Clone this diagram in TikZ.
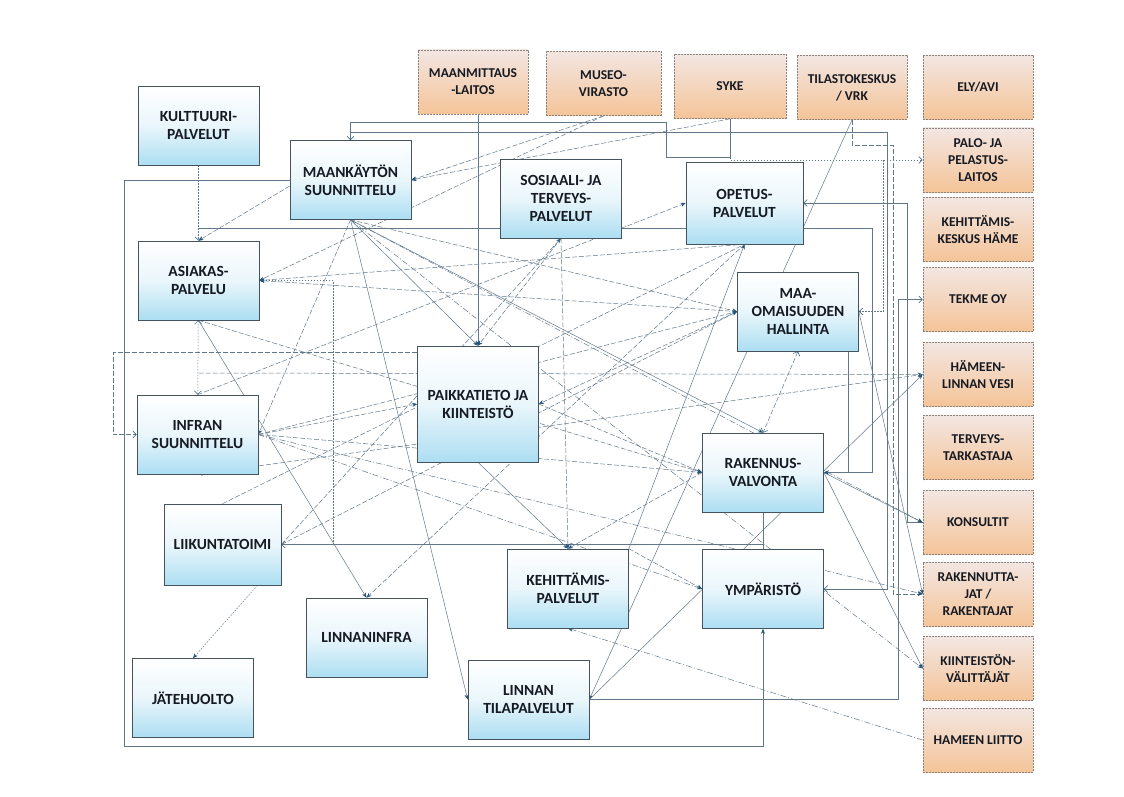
\documentclass[tikz,border=0pt]{standalone}
\usepackage{fontspec}
\setmainfont{Carlito}
\usetikzlibrary{arrows.meta,backgrounds,calc}

\definecolor{linkcol}{RGB}{98,120,138}
\definecolor{tipcol}{RGB}{35,85,125}
\definecolor{boxline}{RGB}{70,82,92}
\definecolor{boxblue}{RGB}{172,222,242}
\definecolor{boxmid}{RGB}{234,246,251}
\definecolor{orgtop}{RGB}{243,230,226}
\definecolor{orgbot}{RGB}{244,196,152}
\definecolor{orgline}{RGB}{140,130,124}
\definecolor{txt}{RGB}{22,26,34}

\begin{document}
\begin{tikzpicture}[x=1pt,y=-1pt,
    unitbox/.style={
        draw=boxline, line width=0.6pt,
        top color=white, bottom color=boxblue, middle color=boxmid,
        minimum width=121pt, minimum height=79pt, inner sep=2pt,
        align=center, text=txt,
        font=\fontsize{15.5}{18}\selectfont\bfseries
        },
    partnerbox/.style={
        draw=orgline, line width=0.7pt, dash pattern=on 2pt off 1pt,
        top color=orgtop, bottom color=orgbot,
        minimum width=110pt, minimum height=64pt, inner sep=2pt,
        align=center, text=txt,
        font=\fontsize{13.5}{17}\selectfont\bfseries
        },
    link/.style={draw=linkcol, line width=0.5pt},
    dashlink/.style={link, dash pattern=on 5pt off 2pt},
    dotlink/.style={link, dash pattern=on 1.5pt off 1.5pt},
    dashdotlink/.style={link, dash pattern=on 6pt off 2pt on 1pt off 2pt},
    arr/.style={-{Stealth[length=5pt,width=4pt,color=tipcol]}},
    openarr/.style={-{Straight Barb[length=3.5pt,width=7pt,color=tipcol]}},
    bothopen/.style={{Straight Barb[length=3.5pt,width=7pt,color=tipcol]}-{Straight Barb[length=3.5pt,width=7pt,color=tipcol]}}
]
\useasboundingbox (0,0) rectangle (1124,797);

% units of the city
\node[unitbox] (kult) at (198.5,125.5) {KULTTUURI-\\PALVELUT};
\node[unitbox] (maak) at (350.5,180) {MAANKÄYTÖN\\SUUNNITTELU};
\node[unitbox] (asiakas) at (198.5,280.5) {ASIAKAS-\\PALVELU};
\node[unitbox] (sote) at (561,198.5) {SOSIAALI- JA\\TERVEYS-\\PALVELUT};
\node[unitbox, minimum width=117pt, minimum height=82pt] (opetus) at (744.5,203) {OPETUS-\\PALVELUT};
\node[unitbox] (maaom) at (798,311.5) {MAA-\\OMAISUUDEN\\HALLINTA};
\node[unitbox, minimum height=116pt] (paikka) at (478,404) {PAIKKATIETO JA\\KIINTEISTÖ};
\node[unitbox] (infra) at (197.5,434.5) {INFRAN\\SUUNNITTELU};
\node[unitbox] (rava) at (763,472.5) {RAKENNUS-\\VALVONTA};
\node[unitbox, minimum width=117pt, minimum height=81pt] (liikunta) at (222.5,544.5) {LIIKUNTATOIMI};
\node[unitbox] (kepa) at (568,588.5) {KEHITTÄMIS-\\PALVELUT};
\node[unitbox] (ymp) at (763,589) {YMPÄRISTÖ};
\node[unitbox] (linfra) at (366.5,637.5) {LINNANINFRA};
\node[unitbox] (jate) at (193,698) {JÄTEHUOLTO};
\node[unitbox] (tilapa) at (528.5,699.5) {LINNAN\\TILAPALVELUT};

% partners
\node[partnerbox] (mml) at (473,82) {MAANMITTAUS\\-LAITOS};
\node[partnerbox, minimum width=115pt] (museo) at (603.5,83.5) {MUSEO-\\VIRASTO};
\node[partnerbox, minimum width=112pt] (syke) at (730,86.5) {SYKE};
\node[partnerbox] (tilasto) at (852,87.5) {TILASTOKESKUS\\/ VRK};
\node[partnerbox] (ely) at (978,87.5) {ELY/AVI};
\node[partnerbox] (palo) at (978,160) {PALO- JA\\PELASTUS-\\LAITOS};
\node[partnerbox] (kekes) at (978,229.5) {KEHITTÄMIS-\\KESKUS HÄME};
\node[partnerbox] (tekme) at (978,299.5) {TEKME OY};
\node[partnerbox] (hmlvesi) at (978,374.5) {HÄMEEN-\\LINNAN VESI};
\node[partnerbox] (terveys) at (978,447.5) {TERVEYS-\\TARKASTAJA};
\node[partnerbox] (konsultit) at (978,522.5) {KONSULTIT};
\node[partnerbox] (rakentajat) at (978,594) {RAKENNUTTA-\\JAT /\\RAKENTAJAT};
\node[partnerbox] (lkv) at (978,668.5) {KIINTEISTÖN-\\VÄLITTÄJÄT};
\node[partnerbox] (liitto) at (978,740) {HAMEEN LIITTO};

\coordinate (sykeknee) at (666,157);
\coordinate (palobranch) at (883,160);
\coordinate (sportknee) at (333,544.5);
\coordinate (midlink) at (198.5,373);

\begin{scope}[on background layer]
\fill[white] (0,0) rectangle (1124,797);

% routed links
\draw[dotlink,openarr] (kult) -- (asiakas);
\draw[link,arr] (maak.west) -| (124,746) -| (ymp.south);
\draw[dashlink,openarr] ($(paikka.north west)+(0,7)$) -| (113,434.5) -- (infra.west);
\draw[link,arr,line width=0.8pt] (mml.south -| paikka.north) -- (paikka.north);
\draw[dotlink,openarr] (syke.south) |- (palo.west);
\draw[link,openarr] (syke.south) |- (sykeknee) -- (666,122) -| (maak.north);
\draw[link,openarr] ($(maak.north)+(0,-8)$) -| (887,589) -- (ymp.east);
\draw[link,arr] ($(kult.south)+(0,63)$) -| (872,472.5) -- (rava.east);
\draw[link,arr] ($(maaom.south east)+(-11,0)$) |- (rava.east);
\draw[link] (rava) -- (ymp);
\draw[link,openarr] (tilapa.east) -| (898,299.5) -- (tekme.west);
\draw[link,openarr] (konsultit.west) -| (907,203) -- (opetus.east);
\draw[dashlink,arr] (tilasto.south) |- (893,145) |- (rakentajat.west);
\draw[dotlink,openarr] (palobranch) |- (maaom.east);
\draw[link,openarr] (ymp.north) |- (liikunta.east);
\draw[dotlink,arr] (sportknee) |- (asiakas.east);
\draw[dotlink,bothopen] (asiakas) -- (infra);
\draw[dashlink,arr] (midlink) -- (hmlvesi.west);

% straight links
\draw[link,arr] (tilasto.south) -- (tilapa.east);
\draw[link,arr] (tilapa.east) -- (hmlvesi.west);
\draw[dashlink,arr] (museo.south) -- (maak.east);
\draw[dashlink,arr] (syke.south) -- (maak.east);
\draw[dashlink,arr] (museo.south) -- (asiakas.east);
\draw[dashlink,arr] ($(maak.west)+(0,6)$) -- (asiakas.north);
\draw[dashlink,arr] (maak.south) -- (infra.east);
\draw[link,arr] (maak.south) -- (tilapa.west);
\draw[link,arr] (maak.south) -- (paikka.north);
\draw[dashlink,arr] (maak.south) -- (maaom.west);
\draw[link,arr] (maak.south) -- (rava.north);
\draw[dashdotlink,arr] (maak.south) -- (konsultit.west);
\draw[dashdotlink,arr] (maak.south) -- (lkv.west);
\draw[link,arr] (asiakas.south) -- (linfra.north);
\draw[dashlink,arr] (opetus.south) -- (asiakas.east);
\draw[dashlink,arr] (maaom.west) -- (asiakas.east);
\draw[dashlink,arr] (infra.north) -- (opetus.west);
\draw[dashlink,arr] (infra.east) -- (paikka.west);
\draw[dashdotlink,arr] (infra.east) -- (rakentajat.west);
\draw[dashlink,arr] (hmlvesi.west) -- (infra.south);
\draw[dashlink,arr] (asiakas.south) -- (rava.west);
\draw[dotlink,arr] ($(liikunta.south)+(35,0)$) -- (jate.north);
\draw[dashlink] (liikunta.north) -- (opetus.south);
\draw[dashlink,arr] (liikunta.east) -- (sote.south);
\draw[dashlink,arr] (sote.south) -- (kepa.north);
\draw[dashlink,arr] (paikka.east) -- (rava.west);
\draw[dashlink,arr] (maaom.west) -- (paikka.east);
\draw[link,arr] (paikka.south) -- (kepa.north);
\draw[dashlink,arr] (rava.west) -- (kepa.north);
\draw[dashlink,arr] (kepa.north east) -- (ymp.west);
\draw[link,arr] (kepa.north east) -- (opetus.south);
\draw[dashlink,arr] (liikunta.east) -- (maaom.west);
\draw[dashlink,bothopen] (maaom.south) -- (rava.north);
\draw[dashlink,arr] (sote.south) -- (paikka.north);
\draw[dashlink,arr] (opetus.south) -- (linfra.north);
\draw[dashlink,arr] (infra.east) -- (rava.west);
\draw[dashdotlink,arr] (infra.east) -- (ymp.west);
\draw[dashlink,arr] (infra.east) -- (maaom.west);
\draw[link,arr] (rava.east) -- (konsultit.west);
\draw[link,arr] (rava.east) -- (lkv.west);
\draw[link,arr] (maaom.east) -- (rakentajat.west);
\draw[dashdotlink,arr] (liitto.west) -- (kepa.south);
\end{scope}

\end{tikzpicture}
\end{document}
